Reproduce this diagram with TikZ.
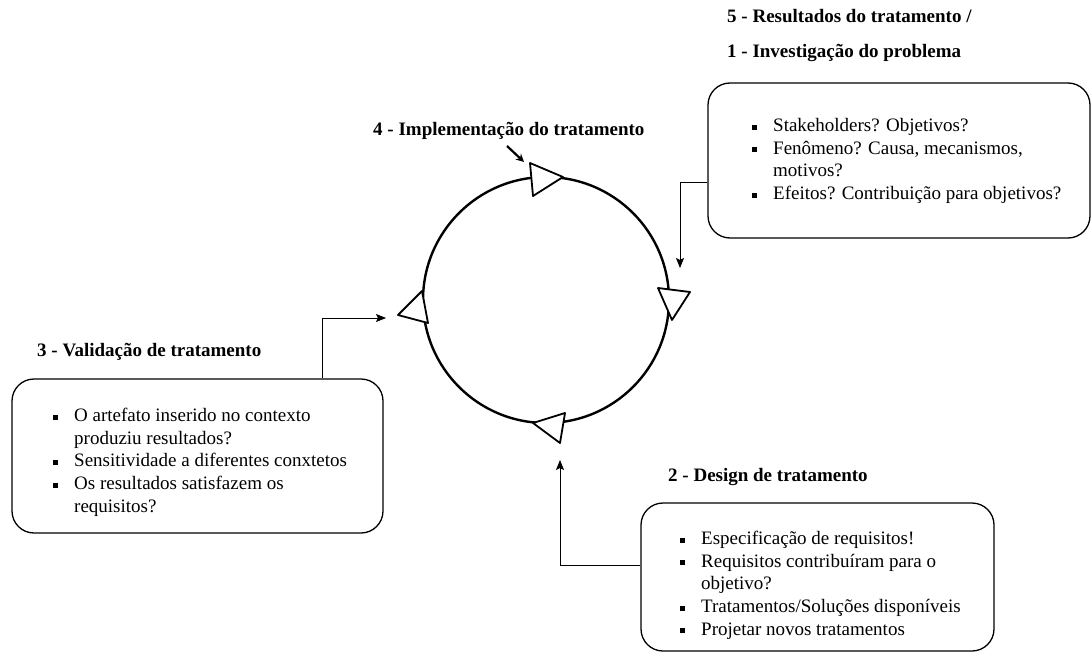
\documentclass[tikz,border=0pt]{standalone}
\usepackage{fontspec}
\setmainfont{Liberation Serif}
\usetikzlibrary{arrows.meta}
\newcommand\bul{\makebox[21pt][l]{\rule[2pt]{5pt}{5pt}}}
\newcommand\ind{\hspace*{21pt}}
\begin{document}
\begin{tikzpicture}[x=1pt,y=-1pt,
  box/.style={draw, line width=1.3pt, rounded corners=22pt, minimum width=#1},
  head/.style={font=\fontsize{19}{22}\selectfont\bfseries, anchor=base west, inner sep=0pt},
  list/.style={font=\fontsize{19}{22.7}\selectfont, align=left, anchor=base west, inner sep=0pt},
  conn/.style={line width=0.8pt, -{Stealth[length=10pt,width=8pt,inset=2pt]}},
  tri/.style={draw, fill=white, line width=1.8pt, line join=round},
  ring/.style={draw, line width=2.4pt}]
\useasboundingbox (0,0) rectangle (1091,655);

% cycle
\node[ring, circle, minimum size=246pt, inner sep=0pt] (ring) at (546,300) {};
\draw[tri] (530,163) -- (563,177) -- (533,196) -- cycle;
\draw[tri] (658,288) -- (690,292) -- (672,320) -- cycle;
\draw[tri] (565,413) -- (560,443) -- (533,423) -- cycle;
\draw[tri] (398,315) -- (422,291) -- (428,323) -- cycle;

% headings
\node[head] (h5) at (727,23) {5 - Resultados do tratamento /};
\node[head] (h1) at (727,58) {1 - Investigação do problema};
\node[head] (h4) at (373,136) {4 - Implementação do tratamento};
\node[head] (h3) at (37,356) {3 - Validação de tratamento};
\node[head] (h2) at (668,481) {2 - Design de tratamento};

% boxes
\node[box=382pt, minimum height=155pt] (b1) at (899,160.5) {};
\node[box=371pt, minimum height=154pt] (b3) at (197.5,456) {};
\node[box=353pt, minimum height=148pt] (b2) at (817.5,577) {};

% lists (anchored at the baseline of the last line)
\node[list] (l1) at (752,199.6) {\bul Stakeholders? Objetivos?\\
  \bul Fenômeno? Causa, mecanismos,\\
  \ind motivos?\\
  \bul Efeitos? Contribuição para objetivos?};
\node[list] (l3) at (53,512.3) {\bul O artefato inserido no contexto\\
  \ind produziu resultados?\\
  \bul Sensitividade a diferentes conxtetos\\
  \bul Os resultados satisfazem os\\
  \ind requisitos?};
\node[list] (l2) at (680,635.3) {\bul Especificação de requisitos!\\
  \bul Requisitos contribuíram para o\\
  \ind objetivo?\\
  \bul Tratamentos/Soluções disponíveis\\
  \bul Projetar novos tratamentos};

% connectors
\coordinate (y1) at (0,182);
\coordinate (e1) at (680,268);
\draw[conn] (b1.west |- y1) -| (e1);
\coordinate (x3) at (322,0);
\coordinate (e3) at (386,318);
\draw[conn] (b3.north -| x3) |- (e3);
\coordinate (y2) at (0,565);
\coordinate (e2) at (560,460);
\draw[conn] (b2.west |- y2) -| (e2);
\coordinate (s4) at (507,146);
\coordinate (t4) at (524,162);
\draw[line width=2.2pt, -{Stealth[length=8pt,width=8pt]}] (s4) -- (t4);
\end{tikzpicture}
\end{document}
